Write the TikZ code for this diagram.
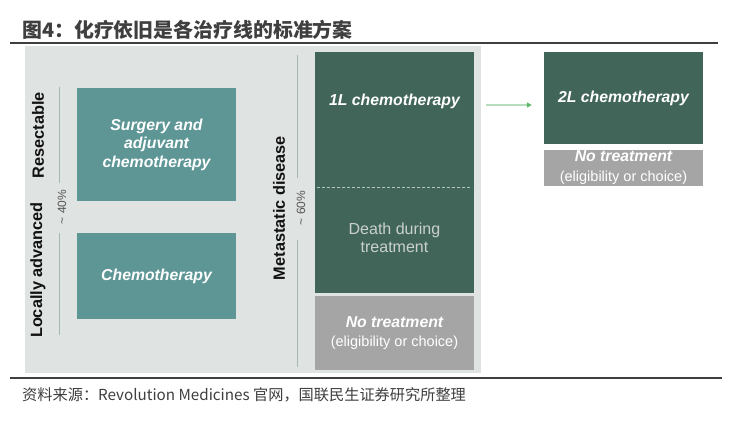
\documentclass[tikz,border=0pt]{standalone}
\usepackage{fontspec}
\setmainfont{Liberation Sans}
\newfontfamily\cjk{Noto Sans CJK SC}
\usetikzlibrary{arrows.meta}
\definecolor{panel}{HTML}{DFE3E2}
\definecolor{tealbox}{HTML}{5E9696}
\definecolor{darkbox}{HTML}{416659}
\definecolor{greybox}{HTML}{A5A5A5}
\definecolor{deathtext}{HTML}{CBD0CD}
\definecolor{guideline}{HTML}{A0B8B0}
\definecolor{pcttext}{HTML}{555555}
\definecolor{labeltext}{HTML}{111111}
\definecolor{titletext}{HTML}{3F3F3F}
\definecolor{arrowline}{HTML}{B8DDBE}
\definecolor{arrowhead}{HTML}{5DB86A}
\begin{document}
\begin{tikzpicture}[x=1pt,y=-1pt,
    box/.style={inner sep=0pt,minimum width=159pt,align=center,text=white},
    boxtext/.style={font=\fontsize{15.8}{18.5}\selectfont\bfseries\itshape},
    side/.style={rotate=90,inner sep=0pt,text=labeltext,font=\fontsize{16.3}{18}\selectfont\bfseries},
    share/.style={rotate=90,inner sep=0pt,text=pcttext,font=\fontsize{12}{14}\selectfont},
    guide/.style={draw=guideline,line width=1pt}]
      \useasboundingbox (0,0) rectangle (754,424);
      \fill[white] (0,0) rectangle (754,424);
      \node[anchor=west,inner sep=0pt,text=titletext,font=\cjk\fontsize{19.9}{22}\selectfont\bfseries] (title) at (22,30) {图4：化疗依旧是各治疗线的标准方案};
      \draw[titletext,line width=1.5pt] (10,43) -- (718,43);
      \fill[panel] (25,46) rectangle (481,373);
      \draw[guide] (59,87) -- (59,183);
      \draw[guide] (59,233) -- (59,335);
      \node[side] (resect) at (38,135) {Resectable};
      \node[side] (local) at (38,270) {Locally advanced};
      \node[share] (leftshare) at (62,207) {\textasciitilde{} 40\%};
      \node[box,boxtext,fill=tealbox,minimum height=113pt] (surgery) at (156.5,144.5) {Surgery and\\adjuvant\\chemotherapy};
      \node[box,boxtext,fill=tealbox,minimum height=86pt] (chemo) at (156.5,276) {Chemotherapy};
      \draw[guide] (297,55) -- (297,178);
      \draw[guide] (297,240) -- (297,367);
      \node[side] (meta) at (279,208) {Metastatic disease};
      \node[share] (rightshare) at (301,208) {\textasciitilde{} 60\%};
      \node[box,fill=darkbox,minimum height=241pt] (first) at (394.5,172.5) {};
      \node[boxtext,text=white] (firsttext) at (394.5,101) {1L chemotherapy};
      \draw[guideline!80!white,dash pattern=on 3pt off 2pt] (317,187) -- (472,187);
      \node[align=center,text=deathtext,font=\fontsize{16}{18}\selectfont] (death) at (394.5,238) {Death during\\treatment};
      \node[box,fill=greybox,minimum height=74pt,font=\fontsize{14.5}{19}\selectfont] (none) at (394.5,333) {{\fontsize{15.8}{19}\selectfont\bfseries\itshape No treatment}\\(eligibility or choice)};
      \node[box,boxtext,fill=darkbox,minimum height=92pt] (second) at (623.5,98) {2L chemotherapy};
      \node[box,fill=greybox,minimum height=36pt,font=\fontsize{14.5}{19}\selectfont] (noneagain) at (623.5,167.5) {{\fontsize{15.8}{19}\selectfont\bfseries\itshape No treatment}\\[1pt](eligibility or choice)};
      \draw[arrowline,line width=1.2pt,shorten <=12pt,shorten >=12pt,-{Triangle[length=5pt,width=5pt,color=arrowhead]}] ([yshift=-7pt]first.east |- second.west) -- ([yshift=-7pt]second.west);
      \draw[titletext,line width=2pt] (10,378) -- (722,378);
      \node[anchor=west,inner sep=0pt,text=titletext,font=\cjk\fontsize{15.2}{18}\selectfont] (source) at (22,395) {资料来源：Revolution Medicines 官网，国联民生证券研究所整理};
\end{tikzpicture}
\end{document}
